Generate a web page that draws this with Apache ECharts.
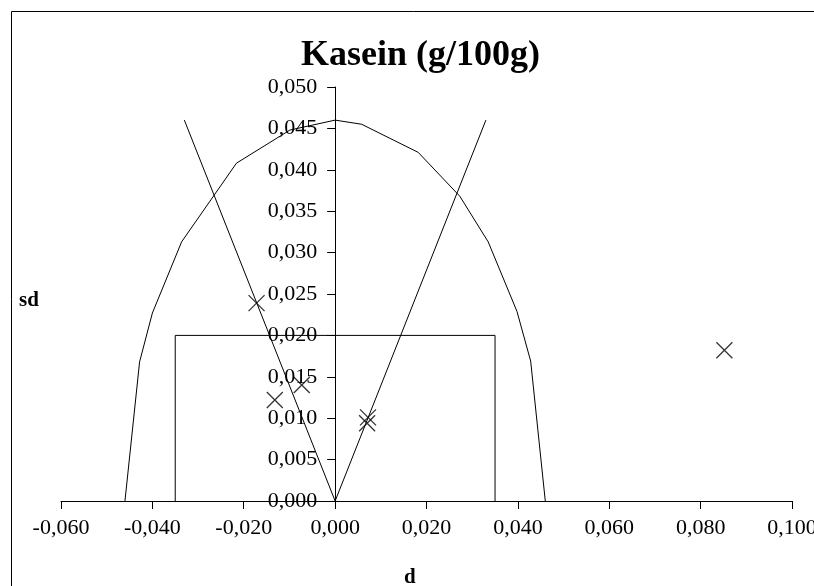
<!DOCTYPE html>
<html>
<head>
<meta charset="utf-8">
<script src="https://cdn.jsdelivr.net/npm/echarts@6/dist/echarts.min.js"></script>
<style>
html,body{margin:0;padding:0;background:#fff;}
#chart{width:814px;height:586px;}
</style>
</head>
<body>
<div id="chart"></div>
<script>
// Data
var titleText = 'Kasein (g/100g)';
var xName = 'd';
var yName = 'sd';
var curveX = [-0.046, -0.0428, -0.040, -0.0336, -0.0216, -0.0099, 0, 0.0058, 0.0182, 0.0273, 0.0335, 0.0398, 0.0428, 0.046];
var curveY = [0, 0.0168, 0.0227, 0.0313, 0.0408, 0.0448, 0.046, 0.0455, 0.0421, 0.0368, 0.0313, 0.0229, 0.0169, 0];
var vLineX = [-0.033, 0, 0.033];
var vLineY = [0.046, 0, 0.046];
var boxX = [-0.035, -0.035, 0.035, 0.035];
var boxY = [0, 0.020, 0.020, 0];
var pointsX = [-0.0172, -0.0132, -0.0073, 0.0072, 0.0070, 0.0852];
var pointsY = [0.0239, 0.0122, 0.0140, 0.0101, 0.0094, 0.0182];

function zip(a, b) { return a.map(function (v, i) { return [v, b[i]]; }); }
function fmt(v) { return (Math.round(v * 1000) / 1000).toFixed(3).replace('.', ','); }

var FONT = '"Liberation Serif", "Times New Roman", serif';
var chart = echarts.init(document.getElementById('chart'), null, {renderer: 'canvas'});
var lineStyle = {color: '#000', width: 1};
var option = {
  animation: false,
  backgroundColor: '#fff',
  title: [
    {text: titleText, left: 296, top: 33,
     textStyle: {fontFamily: FONT, fontWeight: 'bold', fontSize: 36, color: '#000'}},
    {text: yName, left: 14, top: 285,
     textStyle: {fontFamily: FONT, fontWeight: 'bold', fontSize: 21, color: '#000'}},
    {text: xName, left: 399, top: 562,
     textStyle: {fontFamily: FONT, fontWeight: 'bold', fontSize: 21, color: '#000'}}
  ],
  graphic: [{
    type: 'rect', left: 9, top: 9,
    shape: {width: 900, height: 700},
    style: {fill: 'none', stroke: '#000', lineWidth: 1}
  }],
  grid: {left: 61, top: 87, width: 731, height: 414, containLabel: false, outerBoundsMode: 'none'},
  xAxis: {
    type: 'value', min: -0.06, max: 0.1, interval: 0.02,
    axisLine: {onZero: false, lineStyle: {color: '#000', width: 1}},
    axisTick: {show: true, length: 8, lineStyle: {color: '#000'}},
    splitLine: {show: false},
    axisLabel: {formatter: fmt, fontFamily: FONT, fontSize: 22, color: '#000', margin: 16}
  },
  yAxis: {
    type: 'value', min: 0, max: 0.05, interval: 0.005, offset: 0,
    axisLine: {show: true, onZero: false, lineStyle: {color: '#000', width: 1}},
    axisTick: {show: true, length: 8, lineStyle: {color: '#000'}},
    splitLine: {show: false},
    axisLabel: {formatter: fmt, fontFamily: FONT, fontSize: 22, color: '#000', margin: 18}
  },
  series: [
    {type: 'line', data: zip(curveX, curveY), showSymbol: false, lineStyle: lineStyle, silent: true},
    {type: 'line', data: zip(vLineX, vLineY), showSymbol: false, lineStyle: lineStyle, silent: true},
    {type: 'line', data: zip(boxX, boxY), showSymbol: false, lineStyle: lineStyle, silent: true},
    {type: 'scatter', data: zip(pointsX, pointsY), symbol: 'path://M0,0L10,10M10,0L0,10', symbolSize: 16,
     itemStyle: {color: 'none', borderColor: '#000', borderWidth: 1.3}, silent: true}
  ]
};
chart.setOption(option);
// Place the y axis where x = 0 (axis crosses at zero), using the library's own scale
var x0 = chart.convertToPixel({xAxisIndex: 0}, 0);
var xMinPx = chart.convertToPixel({xAxisIndex: 0}, -0.06);
chart.setOption({yAxis: {offset: -(x0 - xMinPx)}});
</script>
</body>
</html>
